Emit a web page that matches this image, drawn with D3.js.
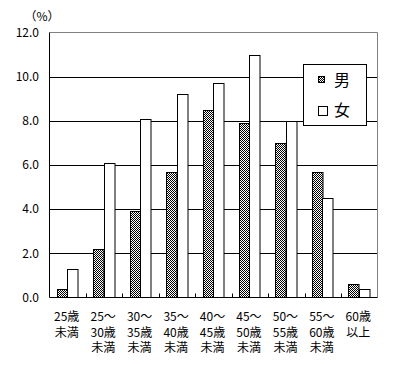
<!DOCTYPE html>
<html><head><meta charset="utf-8">
<script src="https://cdn.jsdelivr.net/npm/d3@7"></script>
<style>body{margin:0;background:#fff}svg{display:block}text{font-family:"Noto Sans CJK JP",sans-serif;fill:#000}</style>
</head><body><svg id="c" width="393" height="365"></svg>
<script>
const categories = [["25歳","未満"],["25～","30歳","未満"],["30～","35歳","未満"],["35～","40歳","未満"],["40～","45歳","未満"],["45～","50歳","未満"],["50～","55歳","未満"],["55～","60歳","未満"],["60歳","以上"]];
const male = [0.4, 2.2, 3.9, 5.7, 8.5, 7.9, 7.0, 5.7, 0.6];
const female = [1.3, 6.1, 8.1, 9.2, 9.7, 11.0, 8.0, 4.5, 0.4];
const yTicks = [0, 2, 4, 6, 8, 10, 12];
const seriesNames = ["男", "女"];

const svg = d3.select("#c");
const L = 49.5, R = 377.5, T = 32.5, B = 297.5;
const x = d3.scaleBand().domain(d3.range(categories.length)).range([L, R]).padding(0);
const y = d3.scaleLinear().domain([0, 12]).range([B, T]);

const defs = svg.append("defs");
const pat = defs.append("pattern").attr("id","chk").attr("width",2).attr("height",2).attr("patternUnits","userSpaceOnUse");
pat.append("rect").attr("width",2).attr("height",2).attr("fill","#fff");
pat.append("rect").attr("x",0).attr("y",0).attr("width",1).attr("height",1).attr("fill","#000");
pat.append("rect").attr("x",1).attr("y",1).attr("width",1).attr("height",1).attr("fill","#000");

// gridlines
svg.append("g").selectAll("line").data(yTicks.filter(d => d > 0 && d < 12)).join("line")
  .attr("x1", L).attr("x2", R).attr("y1", d => Math.round(y(d)) + 0.5).attr("y2", d => Math.round(y(d)) + 0.5)
  .attr("stroke", "#000").attr("stroke-width", 1);
// top and right border (gray)
svg.append("path").attr("d", `M${L},${T}H${R}V${B}`).attr("fill","none").attr("stroke","#808080");

// y labels
svg.append("g").selectAll("text").data(yTicks).join("text")
  .attr("x", 39).attr("y", d => y(d)).attr("dy", "0.36em").attr("text-anchor", "end")
  .attr("font-size", 12).text(d => d.toFixed(1));
svg.append("text").attr("x", 42).attr("y", 21).attr("text-anchor","middle").attr("font-size", 12).text("（%）");

const bw = 10.5;
const g = svg.append("g");
g.selectAll(".m").data(male).join("rect")
  .attr("x", (d, i) => Math.round(x(i) + x.bandwidth()/2 - bw - 0.5) + 0.5)
  .attr("y", d => Math.round(y(d)) + 0.5)
  .attr("width", bw).attr("height", d => B - Math.round(y(d)) - 0.5)
  .attr("fill", "url(#chk)").attr("stroke", "#000");
g.selectAll(".f").data(female).join("rect")
  .attr("x", (d, i) => Math.round(x(i) + x.bandwidth()/2 - 0.5) + 0.5)
  .attr("y", d => Math.round(y(d)) + 0.5)
  .attr("width", bw).attr("height", d => B - Math.round(y(d)) - 0.5)
  .attr("fill", "#fff").attr("stroke", "#000");

// axes lines
svg.append("line").attr("x1", L).attr("x2", L).attr("y1", T).attr("y2", B).attr("stroke", "#000");
svg.append("line").attr("x1", L).attr("x2", R).attr("y1", B).attr("y2", B).attr("stroke", "#000");
// category ticks
svg.append("g").selectAll("line").data(d3.range(1, categories.length)).join("line")
  .attr("x1", i => Math.round(x(i)) + 0.5).attr("x2", i => Math.round(x(i)) + 0.5)
  .attr("y1", B).attr("y2", B - 4).attr("stroke", "#000");

// x labels
const xl = svg.append("g").selectAll("text").data(categories).join("text")
  .attr("font-size", 12).attr("text-anchor", "middle");
xl.each(function(lines, i) {
  d3.select(this).selectAll("tspan").data(lines).join("tspan")
    .attr("x", x(i) + x.bandwidth()/2 - 1).attr("y", (d, k) => 321 + k * 15.5).text(d => d);
});

// legend
const lg = svg.append("g");
lg.append("rect").attr("x", 303.5).attr("y", 64.5).attr("width", 63).attr("height", 61).attr("fill", "#fff").attr("stroke", "#000");
lg.append("rect").attr("x", 318.5).attr("y", 76.5).attr("width", 6).attr("height", 6).attr("fill", "url(#chk)").attr("stroke", "#000");
lg.append("rect").attr("x", 318.5).attr("y", 106.5).attr("width", 9).attr("height", 9).attr("fill", "#fff").attr("stroke", "#000");
lg.append("text").attr("x", 334).attr("y", 80).attr("dy", "0.36em").attr("font-size", 16).text(seriesNames[0]);
lg.append("text").attr("x", 334).attr("y", 110).attr("dy", "0.36em").attr("font-size", 16).text(seriesNames[1]);
</script></body></html>
